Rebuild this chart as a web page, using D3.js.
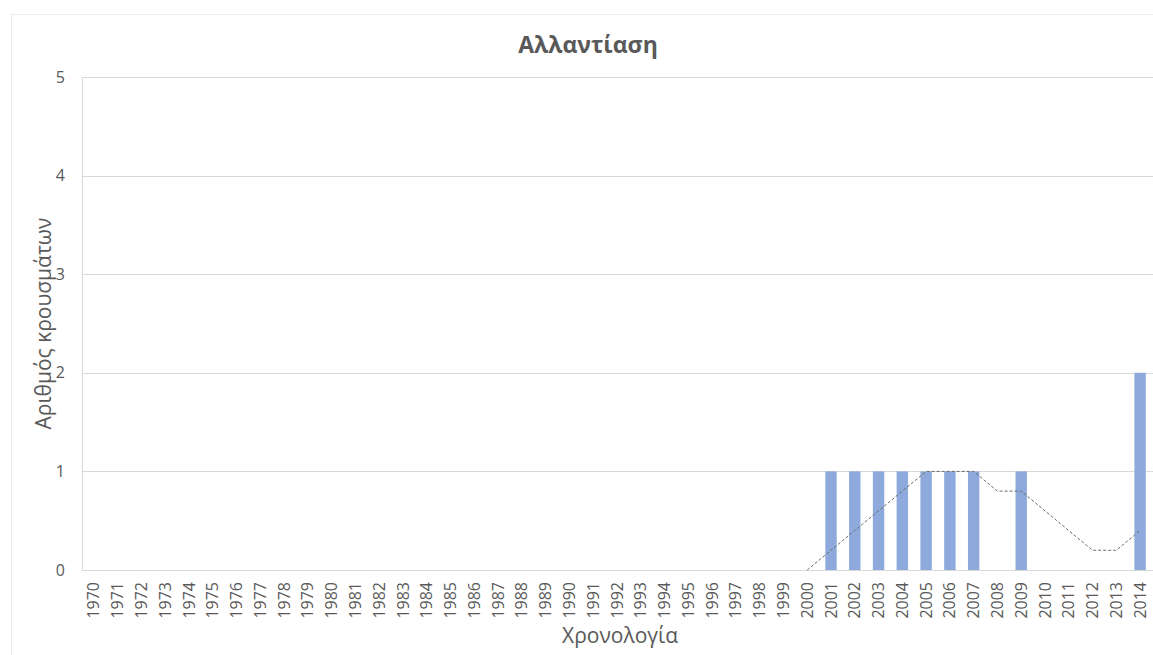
<!DOCTYPE html>
<html>
<head>
<meta charset="utf-8">
<script src="https://cdn.jsdelivr.net/npm/d3@7"></script>
<style>
  html, body { margin: 0; padding: 0; background: #fff; }
  svg { display: block; font-family: "Open Sans", "Noto Sans", sans-serif; }
</style>
</head>
<body>
<svg id="chart" width="1153" height="655"></svg>
<script>
// Years shown on the category axis
const years = d3.range(1970, 2015).map(String);

// Reported cases per year (non-zero years only; all others are 0)
const caseYears = ["2001", "2002", "2003", "2004", "2005", "2006", "2007", "2009", "2014"];
const caseCounts = [1, 1, 1, 1, 1, 1, 1, 1, 2];

// 5-year moving average trend line, drawn from 2000 onwards
const trendYears = ["2000", "2001", "2002", "2003", "2004", "2005", "2006", "2007",
                    "2008", "2009", "2010", "2011", "2012", "2013", "2014"];
const trendValues = [0, 0.2, 0.4, 0.6, 0.8, 1, 1, 1, 0.8, 0.8, 0.6, 0.4, 0.2, 0.2, 0.4];

const yTicks = [0, 1, 2, 3, 4, 5];

const titleText = "Αλλαντίαση";
const yTitle = "Αριθμός κρουσμάτων";
const xTitle = "Χρονολογία";

const caseMap = new Map(caseYears.map((y, i) => [y, caseCounts[i]]));
const values = years.map(y => ({ year: y, value: caseMap.get(y) || 0 }));

const svg = d3.select("#chart");
const margin = { left: 82, right: 1 };
const W = 1153;
const textColor = "#595959";
const fontFamily = '"Open Sans", "Noto Sans", sans-serif';
const tickFontSize = 16;

// Outer chart frame
svg.append("rect")
  .attr("x", 11.5).attr("y", 14.5)
  .attr("width", 1160).attr("height", 700)
  .attr("fill", "none")
  .attr("stroke", "#d9d9d9")
  .attr("stroke-dasharray", "1,1");

const x = d3.scaleBand()
  .domain(years)
  .range([margin.left, W - margin.right])
  .paddingInner(0.52)
  .paddingOuter(0.26);

const y = d3.scaleLinear()
  .domain([0, 5])
  .range([570, 77]);

// Horizontal gridlines
svg.append("g")
  .selectAll("line")
  .data(yTicks)
  .join("line")
  .attr("x1", margin.left)
  .attr("x2", W)
  .attr("y1", d => Math.round(y(d)) + 0.5)
  .attr("y2", d => Math.round(y(d)) + 0.5)
  .attr("stroke", "#d9d9d9")
  .attr("stroke-width", 1);

// Left border of the plot area
svg.append("line")
  .attr("x1", margin.left + 0.5).attr("x2", margin.left + 0.5)
  .attr("y1", y(5)).attr("y2", y(0))
  .attr("stroke", "#d9d9d9");

// Y axis labels
const yAxis = d3.axisLeft(y).tickValues(yTicks).tickSize(0).tickPadding(17).tickFormat(d3.format("d"));
const gy = svg.append("g").attr("transform", `translate(${margin.left},0)`).call(yAxis)
  .attr("font-family", fontFamily)
  .attr("font-size", tickFontSize);
gy.select(".domain").remove();
gy.selectAll("text")
  .attr("fill", textColor)
  .attr("font-size", tickFontSize);

// Bars
svg.append("g")
  .selectAll("rect")
  .data(values.filter(d => d.value > 0))
  .join("rect")
  .attr("x", d => x(d.year))
  .attr("width", x.bandwidth())
  .attr("y", d => y(d.value))
  .attr("height", d => y(0) - y(d.value))
  .attr("fill", "#8eaadc");

// Trend line
const lineGen = d3.line()
  .x((d, i) => x(trendYears[i]) + x.bandwidth() / 2)
  .y(d => y(d));
svg.append("path")
  .datum(trendValues)
  .attr("d", lineGen)
  .attr("fill", "none")
  .attr("stroke", "#6b6b6b")
  .attr("stroke-width", 1)
  .attr("stroke-dasharray", "3,2");

// X axis (category labels, rotated)
const xAxis = d3.axisBottom(x).tickSize(0).tickPadding(0);
const gx = svg.append("g").attr("transform", `translate(0,${y(0)})`).call(xAxis)
  .attr("font-family", fontFamily)
  .attr("font-size", tickFontSize);
gx.select(".domain").remove();
gx.selectAll("text")
  .attr("fill", textColor)
  .attr("font-size", tickFontSize)
  .attr("transform", "rotate(-90)")
  .attr("text-anchor", "end")
  .attr("dy", "0.35em")
  .attr("x", -12)
  .attr("y", 0);

// Titles
svg.append("text")
  .attr("x", 588).attr("y", 53)
  .attr("text-anchor", "middle")
  .attr("fill", textColor)
  .style("font-size", "23px")
  .style("font-weight", "bold")
  .text(titleText);

svg.append("text")
  .attr("transform", `translate(51,${(y(0) + y(5)) / 2}) rotate(-90)`)
  .attr("text-anchor", "middle")
  .attr("fill", textColor)
  .style("font-size", "21px")
  .text(yTitle);

svg.append("text")
  .attr("x", 620).attr("y", 643)
  .attr("text-anchor", "middle")
  .attr("fill", textColor)
  .style("font-size", "21px")
  .text(xTitle);
</script>
</body>
</html>
